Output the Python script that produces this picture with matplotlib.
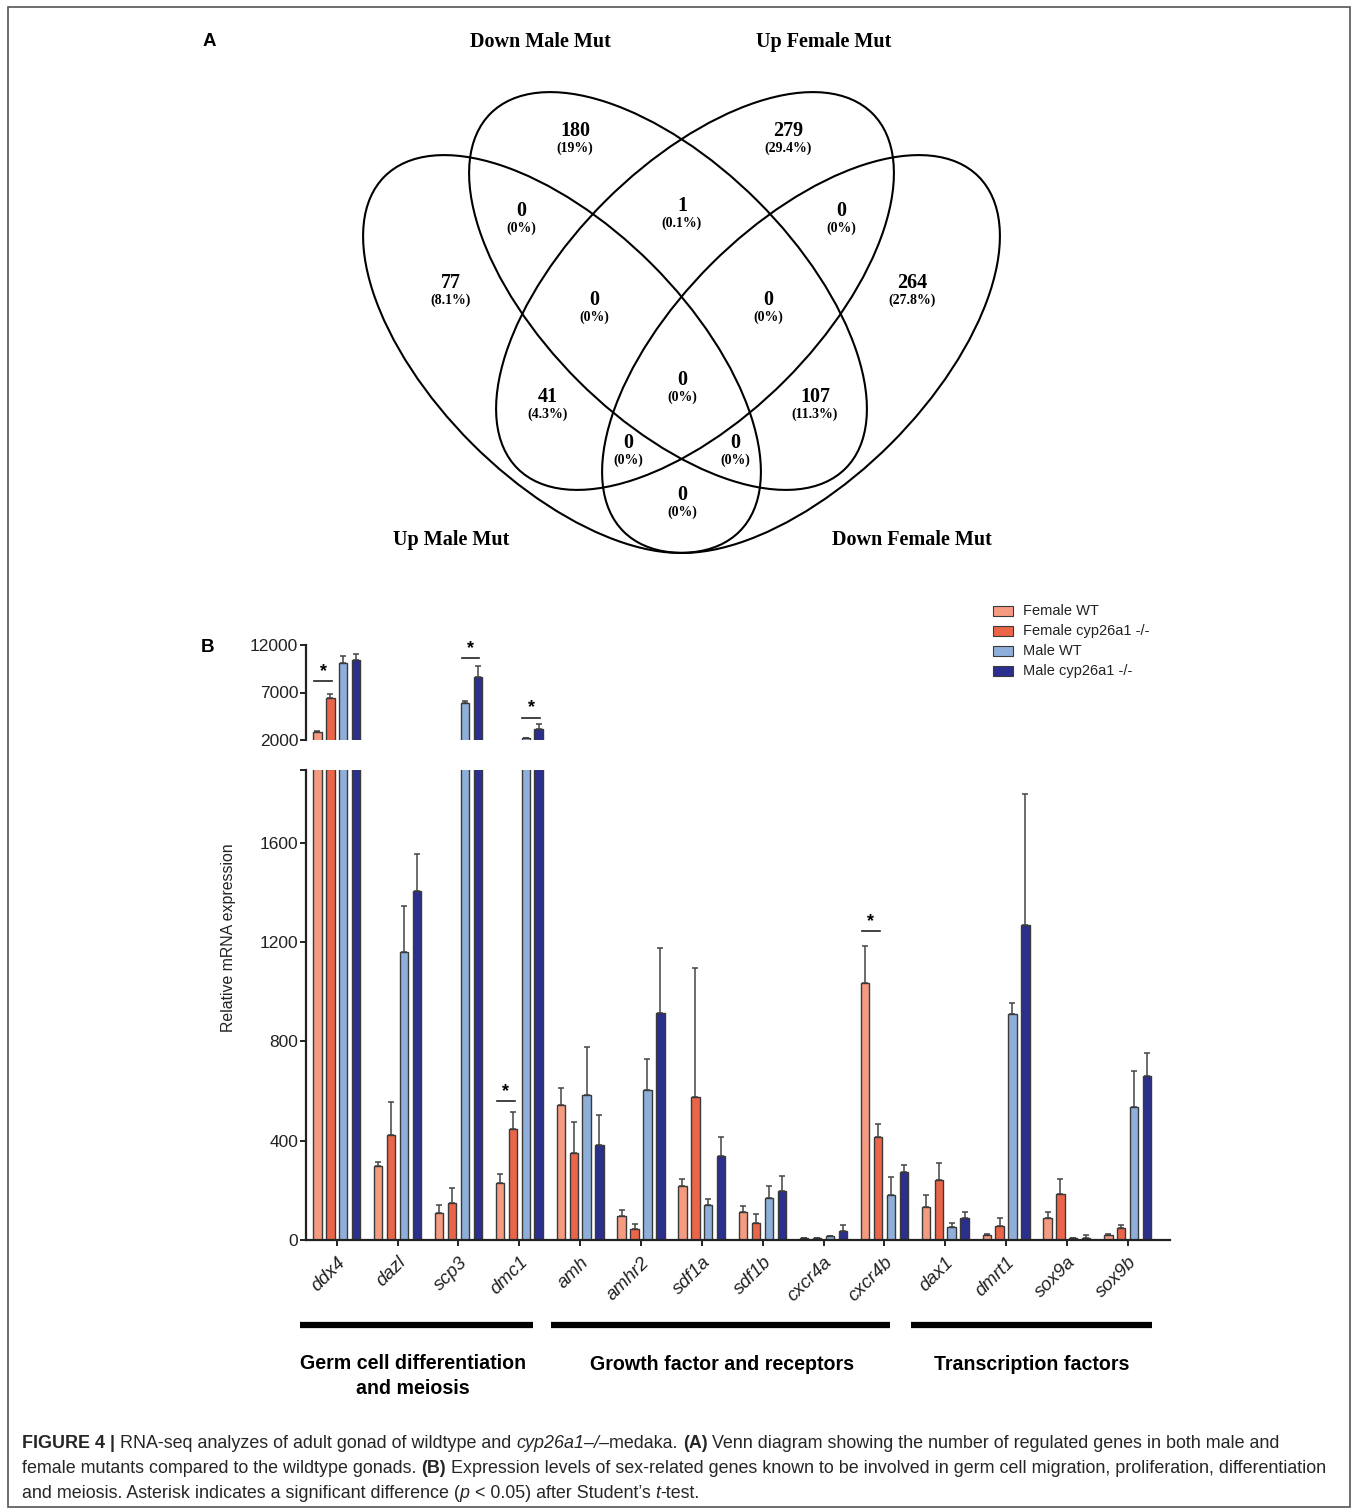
import matplotlib
matplotlib.use("Agg")
import matplotlib.pyplot as plt
from matplotlib.patches import Ellipse, Rectangle
import numpy as np

# ---------------- data ----------------
genes = ['ddx4', 'dazl', 'scp3', 'dmc1', 'amh', 'amhr2', 'sdf1a', 'sdf1b',
         'cxcr4a', 'cxcr4b', 'dax1', 'dmrt1', 'sox9a', 'sox9b']
series_names = ['Female WT', 'Female cyp26a1 -/-', 'Male WT', 'Male cyp26a1 -/-']
female_wt = [2880, 299, 108, 229, 545, 97, 216, 114, 7, 1036, 131, 19, 88, 22]
female_wt_err = [70, 17, 31, 36, 69, 22, 28, 21, 2, 149, 52, 5, 24, 2]
female_mut = [6390, 424, 148, 447, 350, 44, 574, 67, 7, 416, 242, 57, 185, 48]
female_mut_err = [450, 131, 63, 69, 124, 19, 521, 37, 1, 51, 68, 31, 60, 14]
male_wt = [10070, 1158, 5930, 2175, 582, 606, 141, 171, 16, 182, 54, 912, 7, 537]
male_wt_err = [770, 189, 175, 70, 194, 121, 26, 45, 2, 71, 15, 44, 2, 143]
male_mut = [10420, 1404, 8600, 3160, 381, 916, 337, 199, 35, 272, 90, 1269, 9, 659]
male_mut_err = [630, 152, 1230, 490, 123, 261, 78, 60, 24, 30, 23, 527, 10, 95]

# significance markers: gene index, first series, second series, y of bar
sig_gene = [0, 2, 3, 3, 9]
sig_first = [0, 2, 2, 0, 0]
sig_second = [1, 3, 3, 1, 1]
sig_y = [8211, 10597, 4351, 559, 1243]

lower_ticks = [0, 400, 800, 1200, 1600]
upper_ticks = [2000, 7000, 12000]

group_names = ['Germ cell differentiation\nand meiosis', 'Growth factor and receptors',
               'Transcription factors']

venn_sets = ['Down Male Mut', 'Up Female Mut', 'Up Male Mut', 'Down Female Mut']
venn_counts = [180, 279, 0, 1, 0, 77, 0, 0, 264, 0, 41, 107, 0, 0, 0]
venn_pcts = ['19%', '29.4%', '0%', '0.1%', '0%', '8.1%', '0%', '0%', '27.8%',
             '0%', '4.3%', '11.3%', '0%', '0%', '0%']

# ---------------- layout ----------------
W, H = 1357, 1511
fig = plt.figure(figsize=(W / 100, H / 100), dpi=100)
fig.patch.set_facecolor('white')

ax0 = fig.add_axes([0, 0, 1, 1])
ax0.set_xlim(0, W)
ax0.set_ylim(H, 0)
ax0.axis('off')

SANS = ['Liberation Sans', 'DejaVu Sans']
SERIF = ['Liberation Serif', 'DejaVu Serif']

# border
ax0.add_patch(Rectangle((8, 7), 1342, 1500, fill=False, ec='#555555', lw=1.2))

# panel letters
ax0.text(209, 41, 'A', fontsize=13.5, fontweight='bold', family=SANS, ha='center', va='center')
ax0.text(208, 648, 'B', fontsize=13.5, fontweight='bold', family=SANS, ha='center', va='center')

# ---------------- Venn ----------------
ell = [((562, 354), 45), ((668, 291), 45), ((695, 291), -45), ((801, 354), -45)]
for (c, ang) in ell:
    ax0.add_patch(Ellipse(c, 502, 254, angle=ang, fill=False, ec='black', lw=1.5))

venn_pos = [(575, 131), (788, 131), (521, 211), (682, 206), (841, 211),
            (451, 283), (594, 300), (768, 300), (912, 283),
            (682, 380), (548, 397), (815, 397), (628, 443), (735, 443), (682, 495)]
for (x, y), n, p in zip(venn_pos, venn_counts, venn_pcts):
    ax0.text(x, y, str(n), fontsize=14.5, fontweight='bold', family=SERIF, ha='center', va='center')
    ax0.text(x, y + 17, '(' + p + ')', fontsize=10, fontweight='bold', family=SERIF,
             ha='center', va='center')

venn_label_pos = [(540, 42), (824, 42), (451, 540), (912, 540)]
for (x, y), s in zip(venn_label_pos, venn_sets):
    ax0.text(x, y, s, fontsize=14.5, fontweight='bold', family=SERIF, ha='center', va='center')

# ---------------- bar chart ----------------
colors = ['#F59B80', '#EB6648', '#8FAFDB', '#2B2F8E']
values = [female_wt, female_mut, male_wt, male_mut]
errors = [female_wt_err, female_mut_err, male_wt_err, male_mut_err]

left_px, right_px = 306, 1170
low_top, low_bot = 770, 1240
up_top, up_bot = 645, 740
axL = fig.add_axes([left_px / W, 1 - low_bot / H, (right_px - left_px) / W, (low_bot - low_top) / H])
axU = fig.add_axes([left_px / W, 1 - up_bot / H, (right_px - left_px) / W, (up_bot - up_top) / H])

x = np.arange(len(genes))
pitch = 0.212
bw = 0.137
for ax in (axL, axU):
    ax.patch.set_alpha(0)
    for i in range(4):
        xi = x + (i - 1.5) * pitch
        ax.bar(xi, values[i], width=bw, color=colors[i], edgecolor='#3a3a3a', linewidth=1.0, zorder=2)
        ax.errorbar(xi, values[i], yerr=[np.zeros(len(genes)), errors[i]], fmt='none',
                    ecolor='#444444', elinewidth=1.1, capsize=2, capthick=1.1, zorder=1)
    ax.set_xlim(-0.506, 13.695)
    for s in ('top', 'right'):
        ax.spines[s].set_visible(False)
    ax.spines['left'].set_linewidth(1.6)
    ax.spines['left'].set_color('#222222')
    ax.tick_params(axis='y', direction='out', length=4.5, width=1.4, labelsize=12.5, pad=1,
                   colors='#222222')

axL.set_ylim(0, 1893)
axL.set_yticks(lower_ticks + [1893])
axL.set_yticklabels([str(t) for t in lower_ticks] + [''])
axL.spines['bottom'].set_linewidth(1.6)
axL.spines['bottom'].set_color('#222222')
axL.set_xticks(x)
axL.set_xticklabels(genes, rotation=45, ha='right', va='top', rotation_mode='anchor',
                    fontstyle='italic', fontsize=13.5, family=SANS)
axL.tick_params(axis='x', direction='out', length=4, width=1.4, pad=6, colors='#222222')
for lab in axL.get_yticklabels() + axU.get_yticklabels():
    lab.set_family(SANS)

axU.set_ylim(2000, 12000)
axU.set_yticks(upper_ticks)
axU.spines['bottom'].set_visible(False)
axU.set_xticks([])

# significance
for g, a, b, y in zip(sig_gene, sig_first, sig_second, sig_y):
    ax = axU if y > 2000 else axL
    x1 = g + (a - 1.5) * pitch - bw * 0.4
    x2 = g + (b - 1.5) * pitch + bw * 0.2
    ax.plot([x1, x2], [y, y], color='#222222', lw=1.2, clip_on=False)
    ax.annotate('*', xy=((x1 + x2) / 2, y), xytext=(0, 1), textcoords='offset points',
                ha='center', va='bottom', fontsize=13, fontweight='bold', family=SANS,
                annotation_clip=False)

# y label
ax0.text(228, 938, 'Relative mRNA expression', rotation=90, fontsize=11.4, family=SANS,
         ha='center', va='center', color='#222222')

# legend
for i, name in enumerate(series_names):
    yc = 611 + 20 * i
    ax0.add_patch(Rectangle((993, yc - 5), 20, 10, fc=colors[i], ec='#3a3a3a', lw=0.8))
    ax0.text(1023, yc, name, fontsize=10.5, family=SANS, ha='left', va='center', color='#222222')

# group bars + labels
group_spans = [(300, 533), (551, 890), (911, 1152)]
group_label_pos = [(413, 1376), (722, 1364), (1032, 1364)]
for (a, b), (gx, gy), name in zip(group_spans, group_label_pos, group_names):
    ax0.plot([a, b], [1325, 1325], color='black', lw=4.5, solid_capstyle='butt')
    ax0.text(gx, gy, name, fontsize=14.1, fontweight='bold', family=SANS, ha='center',
             va='center', linespacing=1.45)

# caption
fig.canvas.draw()
renderer = fig.canvas.get_renderer()
cap_size = 12.9
cap_color = '#262626'
lines = [
    [("FIGURE 4 | ", 'bold', 'normal'), ("RNA-seq analyzes of adult gonad of wildtype and ", 'normal', 'normal'),
     ("cyp26a1\u2013/\u2013", 'normal', 'italic'), ("medaka. ", 'normal', 'normal'), ("(A)", 'bold', 'normal'),
     (" Venn diagram showing the number of regulated genes in both male and", 'normal', 'normal')],
    [("female mutants compared to the wildtype gonads. ", 'normal', 'normal'), ("(B)", 'bold', 'normal'),
     (" Expression levels of sex-related genes known to be involved in germ cell migration, proliferation, differentiation",
      'normal', 'normal')],
    [("and meiosis. Asterisk indicates a significant difference (", 'normal', 'normal'), ("p", 'normal', 'italic'),
     (" < 0.05) after Student\u2019s ", 'normal', 'normal'), ("t", 'normal', 'italic'), ("-test.", 'normal', 'normal')],
]
baselines = [1448, 1473, 1498]
for segs, yb in zip(lines, baselines):
    xc = 22
    for txt, wt, st in segs:
        t = ax0.text(xc, yb, txt, fontsize=cap_size, fontweight=wt, fontstyle=st, family=SANS,
                     ha='left', va='baseline', color=cap_color)
        bb = t.get_window_extent(renderer)
        xc = bb.x1

fig.savefig('out.png', dpi=100, facecolor='white')
